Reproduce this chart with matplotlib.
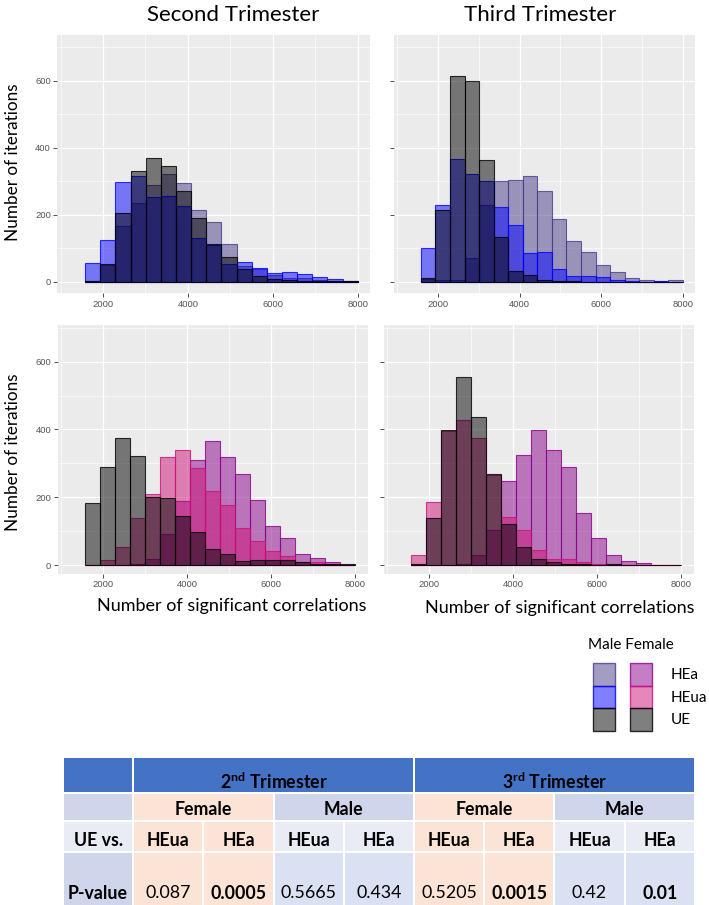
import numpy as np
import matplotlib
matplotlib.use('Agg')
import matplotlib.pyplot as plt
from matplotlib.patches import Rectangle
from matplotlib.ticker import FixedLocator

plt.rcParams['font.family'] = ['Lato', 'DejaVu Sans']
plt.rcParams['mathtext.fontset'] = 'custom'
plt.rcParams['mathtext.rm'] = 'Lato'
plt.rcParams['mathtext.bf'] = 'Lato:bold'

# ---------------- data ----------------
BIN_START, BIN_END, N_BINS = 1580, 8000, 18

# Second trimester, male
m2_HEa = [2, 50, 167, 236, 290, 321, 296, 214, 177, 111, 48, 38, 20, 12, 10, 5, 3, 3]
m2_HEua = [55, 124, 297, 317, 252, 256, 226, 129, 110, 53, 60, 40, 25, 28, 22, 13, 8, 3]
m2_UE = [3, 52, 204, 331, 370, 345, 270, 189, 112, 75, 37, 17, 8, 5, 3, 2, 1, 2]
# Third trimester, male
m3_HEa = [8, 5, 6, 70, 229, 301, 304, 316, 271, 186, 120, 90, 50, 28, 12, 6, 2, 4]
m3_HEua = [100, 229, 367, 322, 301, 224, 169, 86, 88, 39, 18, 18, 13, 4, 2, 0, 1, 0]
m3_UE = [10, 214, 615, 598, 362, 134, 33, 21, 4, 3, 1, 0, 0, 0, 0, 0, 0, 0]
# Second trimester, female
f2_HEa = [0, 0, 0, 2, 18, 93, 189, 310, 366, 320, 270, 192, 115, 79, 34, 20, 10, 1]
f2_HEua = [0, 15, 54, 138, 209, 320, 339, 287, 218, 177, 108, 71, 41, 28, 10, 10, 3, 1]
f2_UE = [182, 288, 376, 323, 200, 197, 146, 96, 46, 34, 12, 15, 15, 15, 8, 3, 2, 2]
# Third trimester, female
f3_HEa = [0, 0, 0, 3, 29, 102, 248, 326, 399, 338, 289, 155, 81, 29, 12, 5, 1, 1]
f3_HEua = [29, 187, 396, 428, 376, 265, 143, 102, 44, 18, 18, 8, 2, 0, 0, 0, 0, 0]
f3_UE = [4, 138, 399, 554, 436, 270, 120, 52, 17, 8, 3, 2, 1, 2, 0, 0, 1, 1]

groups = ['HEa', 'HEua', 'UE']
male_colors = {'HEa': '#483D8B', 'HEua': '#0000FF', 'UE': '#000000'}
female_colors = {'HEa': '#8B008B', 'HEua': '#CD1076', 'UE': '#000000'}

trimester_titles = ['Second Trimester', 'Third Trimester']
y_label = 'Number of iterations'
x_label = 'Number of significant correlations'

# table
tbl_trimesters = ['2$^{\\mathbf{nd}}$ Trimester', '3$^{\\mathbf{rd}}$ Trimester']
tbl_sexes = ['Female', 'Male', 'Female', 'Male']
tbl_groups = ['HEua', 'HEa', 'HEua', 'HEa', 'HEua', 'HEa', 'HEua', 'HEa']
tbl_pvalues = ['0.087', '0.0005', '0.5665', '0.434', '0.5205', '0.0015', '0.42', '0.01']
tbl_bold = [False, True, False, False, False, True, False, True]

# ---------------- figure ----------------
W, H = 709, 905
fig = plt.figure(figsize=(W / 100, H / 100), dpi=100)
fig.patch.set_facecolor('white')

edges = np.linspace(BIN_START, BIN_END, N_BINS + 1)
bw = edges[1] - edges[0]


def add_panel(l, r, t, b, ylim, series, colors, show_ylabels):
    ax = fig.add_axes([l / W, 1 - b / H, (r - l) / W, (b - t) / H])
    ax.set_facecolor('#EBEBEB')
    for s in ax.spines.values():
        s.set_visible(False)
    ax.set_xlim(920, 8300)
    ax.set_ylim(*ylim)
    ax.xaxis.set_major_locator(FixedLocator([2000, 4000, 6000, 8000]))
    ax.xaxis.set_minor_locator(FixedLocator([1000, 3000, 5000, 7000]))
    ax.yaxis.set_major_locator(FixedLocator([0, 200, 400, 600]))
    ax.yaxis.set_minor_locator(FixedLocator([100, 300, 500, 700]))
    ax.set_axisbelow(True)
    ax.grid(which='major', color='white', lw=0.9)
    ax.grid(which='minor', color='white', lw=0.45)
    ax.tick_params(which='major', length=3, width=0.6, color='#333333',
                   labelsize=6.8, labelcolor='#555555', pad=1.5)
    ax.tick_params(which='minor', length=0)
    for lab in ax.get_xticklabels() + ax.get_yticklabels():
        lab.set_fontfamily('Liberation Sans')
    if not show_ylabels:
        ax.tick_params(labelleft=False)
    for g in groups:
        c = colors[g]
        ax.bar(edges[:-1], series[g], width=bw, align='edge',
               facecolor=matplotlib.colors.to_rgba(c, 0.5),
               edgecolor=matplotlib.colors.to_rgba(c, 0.8), linewidth=0.8)
    return ax


add_panel(57.2, 370.4, 35.5, 293.4, (-35, 735),
          {'HEa': m2_HEa, 'HEua': m2_HEua, 'UE': m2_UE}, male_colors, True)
add_panel(393.9, 695.2, 35.5, 293.4, (-35, 735),
          {'HEa': m3_HEa, 'HEua': m3_HEua, 'UE': m3_UE}, male_colors, False)
add_panel(57.6, 367.6, 325.1, 573.5, (-25, 708),
          {'HEa': f2_HEa, 'HEua': f2_HEua, 'UE': f2_UE}, female_colors, True)
add_panel(383.6, 693.6, 325.1, 573.5, (-25, 708),
          {'HEa': f3_HEa, 'HEua': f3_HEua, 'UE': f3_UE}, female_colors, False)

# overlay for text, legend, table (pixel coordinates)
ov = fig.add_axes([0, 0, 1, 1], zorder=5)
ov.set_xlim(0, W)
ov.set_ylim(H, 0)
ov.axis('off')
ov.patch.set_alpha(0)

ov.text(233, 15, trimester_titles[0], fontsize=16, ha='center', va='center')
ov.text(540, 15, trimester_titles[1], fontsize=16, ha='center', va='center')
ov.text(13, 162, y_label, fontsize=12.3, rotation=90, ha='center', va='center')
ov.text(13, 452, y_label, fontsize=12.3, rotation=90, ha='center', va='center')
ov.text(232, 606, x_label, fontsize=13, ha='center', va='center')
ov.text(560, 608, x_label, fontsize=13, ha='center', va='center')

# legend
ov.text(588, 645, 'Male Female', fontsize=11, ha='left', va='center')
row_tops = [663, 685.5, 708]
for i, g in enumerate(groups):
    for x0, cols in ((593, male_colors), (630, female_colors)):
        c = cols[g]
        ov.add_patch(Rectangle((x0, row_tops[i]), 22, 22.5,
                               facecolor=matplotlib.colors.to_rgba(c, 0.5),
                               edgecolor=matplotlib.colors.to_rgba(c, 0.8), lw=1.0))
    ov.text(671, row_tops[i] + 12, g, fontsize=11, ha='left', va='center')

# table
BLUE = '#4472C4'
LAV = '#CFD5EA'
LAV2 = '#E9EBF5'
PEACH = '#FBE4D5'
LBLUE = '#D9E1F2'
x0t, cw = 63, 70.2
colx = [x0t + i * cw for i in range(10)]
rows = [757, 792.5, 820.5, 852, 908]
TFS = 12.8


def cell(c0, c1, r, color):
    xa, xb = colx[c0], colx[c1]
    ya, yb = rows[r], rows[r + 1]
    ov.add_patch(Rectangle((xa + 1, ya + 1), xb - xa - 2, yb - ya - 2,
                           facecolor=color, edgecolor='none'))


# header row
cell(0, 1, 0, BLUE)
cell(1, 5, 0, BLUE)
cell(5, 9, 0, BLUE)
for k, lab in enumerate(tbl_trimesters):
    xc = (colx[1 + 4 * k] + colx[5 + 4 * k]) / 2
    ov.text(xc, 782, lab, fontsize=TFS, fontweight='bold', ha='center', va='center')
# sex row
cell(0, 1, 1, LAV)
for k, lab in enumerate(tbl_sexes):
    col = PEACH if lab == 'Female' else LAV
    cell(1 + 2 * k, 3 + 2 * k, 1, col)
    xc = (colx[1 + 2 * k] + colx[3 + 2 * k]) / 2
    ov.text(xc, 809, lab, fontsize=TFS, fontweight='bold', ha='center', va='center')
# group row
cell(0, 1, 2, LAV2)
ov.text((colx[0] + colx[1]) / 2, 840.5, 'UE vs.', fontsize=TFS, fontweight='bold',
        ha='center', va='center')
for j, lab in enumerate(tbl_groups):
    female = (j // 2) % 2 == 0
    cell(1 + j, 2 + j, 2, PEACH if female else LAV2)
    ov.text((colx[1 + j] + colx[2 + j]) / 2, 840.5, lab, fontsize=TFS,
            fontweight='bold', ha='center', va='center')
# p-value row
cell(0, 1, 3, LAV)
ov.text((colx[0] + colx[1]) / 2, 893, 'P-value', fontsize=TFS, fontweight='bold',
        ha='center', va='center')
for j, lab in enumerate(tbl_pvalues):
    female = (j // 2) % 2 == 0
    cell(1 + j, 2 + j, 3, PEACH if female else LBLUE)
    ov.text((colx[1 + j] + colx[2 + j]) / 2, 893, lab, fontsize=TFS,
            fontweight='bold' if tbl_bold[j] else 'normal', ha='center', va='center')

fig.savefig('out.png', dpi=100)
